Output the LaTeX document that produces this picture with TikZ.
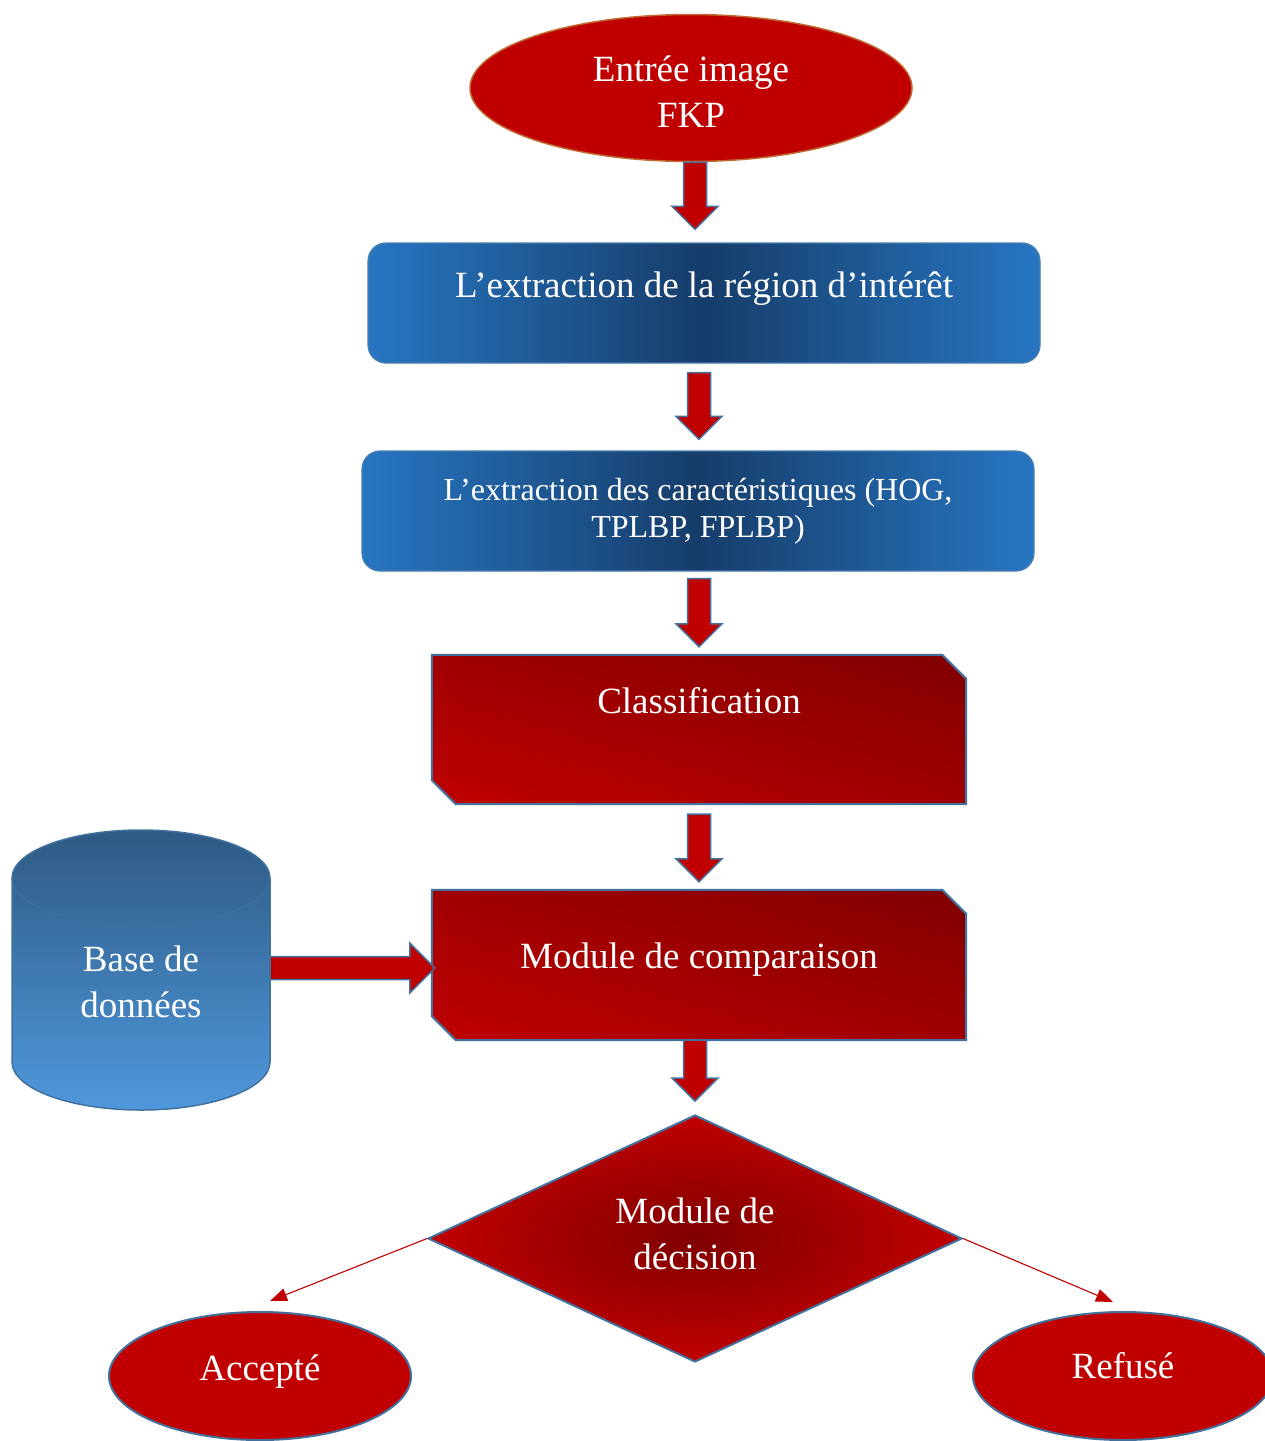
\documentclass[tikz,border=0pt]{standalone}
\usepackage{fontspec}
\setmainfont{Liberation Serif}
\usetikzlibrary{shapes.geometric,arrows.meta,calc}
\definecolor{rd}{HTML}{C00000}
\definecolor{drd}{HTML}{800000}
\definecolor{edg}{HTML}{41719C}
\definecolor{brn}{HTML}{BE6A30}
\definecolor{bl}{HTML}{2776C2}
\definecolor{bd}{HTML}{163D6A}
\definecolor{bedge}{HTML}{4A7DB0}
\definecolor{cylT}{HTML}{2E5A84}
\definecolor{cylB}{HTML}{4F98DC}
\definecolor{cylL}{HTML}{3F70A0}
\pgfdeclarehorizontalshading{bluebar}{100bp}{color(0bp)=(bl); color(25bp)=(bl); color(50bp)=(bd); color(75bp)=(bl); color(100bp)=(bl)}
\pgfdeclarefunctionalshading{diagred}{\pgfpointorigin}{\pgfpoint{100bp}{100bp}}{}{%
  add 50 sub 100 div dup 0 lt {pop 0} if dup 1 gt {pop 1} if -0.251 mul 0.753 add 0 0}
\tikzset{
  txt/.style={text=white, inner sep=0pt, font=\fontsize{37}{46}\selectfont, align=center},
  smalltxt/.style={text=white, inner sep=0pt, font=\fontsize{32}{37}\selectfont, align=center},
  blk/.style={fill=rd, draw=edg, line width=1.5pt, line join=miter},
  bluebox/.style={rectangle, rounded corners=18pt, minimum width=672pt, minimum height=120pt, inner sep=0pt, shade, shading=bluebar, draw=bedge, line width=1.2pt},
  frame/.style={rectangle, minimum width=534pt, inner sep=0pt},
  redgrad/.style={shade, shading=diagred, draw=edg, line width=2pt},
  oval/.style={ellipse, fill=rd, draw=edg, line width=2pt, inner sep=0pt},
  thinarrow/.style={draw=rd, line width=1.1pt, -{Triangle[length=17pt,width=13pt]}}
}
\newcommand\blkdown[2]{%
  \draw[blk] let \p1=(#1), \p2=(#2) in
    (\x1-11.5pt,\y1) -- (\x1+11.5pt,\y1) -- (\x1+11.5pt,\y2+23pt) -- (\x1+23pt,\y2+23pt)
    -- (\x1,\y2) -- (\x1-23pt,\y2+23pt) -- (\x1-11.5pt,\y2+23pt) -- cycle;}
\newcommand\blkright[2]{%
  \draw[blk] let \p1=(#1), \p2=(#2) in
    (\x1,\y1+11.5pt) -- (\x2-25pt,\y1+11.5pt) -- (\x2-25pt,\y1+25pt) -- (\x2,\y1)
    -- (\x2-25pt,\y1-25pt) -- (\x2-25pt,\y1-11.5pt) -- (\x1,\y1-11.5pt) -- cycle;}
\begin{document}
\begin{tikzpicture}[x=1pt,y=-1pt]
\clip (0,0) rectangle (1265,1441);
\fill[white] (0,0) rectangle (1265,1441);

% input ellipse
\node[ellipse, fill=rd, draw=brn, line width=1.5pt, minimum width=442pt, minimum height=147pt, inner sep=0pt] (in) at (691,88) {};
\node[txt] (inT) at (691,92) {Entrée image\\FKP};

% blue boxes
\node[bluebox] (box1) at (704,303) {};
\node[txt, anchor=base] (box1T) at (704,297) {L’extraction de la région d’intérêt};
\node[bluebox] (box2) at (698,511) {};
\node[smalltxt] (box2T) at (698,511) {L’extraction des caractéristiques (HOG,\\TPLBP, FPLBP)};

% classification
\node[frame, minimum height=149pt] (cls) at (699,729.5) {};
\path[redgrad] (cls.north west) -- ($(cls.north east)+(-24,0)$) -- ($(cls.north east)+(0,24)$)
  -- (cls.south east) -- ($(cls.south west)+(24,0)$) -- ($(cls.south west)+(0,-24)$) -- cycle;
\node[txt, anchor=base] (clsT) at (699,713) {Classification};

% comparison module
\node[frame, minimum height=150pt] (mod) at (699,965) {};
\path[redgrad] (mod.north west) -- ($(mod.north east)+(-24,0)$) -- ($(mod.north east)+(0,24)$)
  -- (mod.south east) -- ($(mod.south west)+(24,0)$) -- ($(mod.south west)+(0,-24)$) -- cycle;
\node[txt, anchor=base] (modT) at (699,968) {Module de comparaison};

% database cylinder
\node[rectangle, minimum width=258pt, minimum height=280pt, inner sep=0pt] (db) at (141,970) {};
\path[top color=cylT, bottom color=cylB, draw=edg, line width=1.5pt]
  (12,878) -- (12,1062) arc[start angle=180, end angle=360, x radius=129pt, y radius=48pt]
  -- (270,878) arc[start angle=0, end angle=180, x radius=129pt, y radius=48pt] -- cycle;
\draw[cylL, line width=1pt] (12,878) arc[start angle=180, end angle=360, x radius=129pt, y radius=48pt];
\node[txt] (dbT) at (141,982) {Base de\\données};

% decision diamond
\node[diamond, aspect=2.16, minimum width=534pt, minimum height=247pt, inner sep=0pt,
      shade, inner color=drd, outer color=rd, draw=edg, line width=2pt] (dec) at (695,1238.5) {};
\node[txt] (decT) at (695,1234) {Module de\\décision};

% outcomes
\node[oval, minimum width=302pt, minimum height=128pt] (acc) at (260,1376) {};
\node[txt, anchor=base] (accT) at (260,1380) {Accepté};
\node[oval, minimum width=300pt, minimum height=128pt] (ref) at (1123,1376) {};
\node[txt, anchor=base] (refT) at (1123,1378) {Refusé};

% block arrows
\blkdown{$(in.south)+(4,0)$}{$(box1.north)+(-9,-13)$}
\blkdown{$(box1.south)+(-5,9)$}{$(box2.north)+(1,-11)$}
\blkdown{$(box2.south)+(1,7)$}{$(cls.north)+(0,-8)$}
\blkdown{$(cls.south)+(0,10)$}{$(mod.north)+(0,-8)$}
\blkdown{$(mod.south)+(-4,0)$}{$(dec.north)+(0,-13)$}
\blkright{$(db.east)+(0,-2)$}{$(mod.west)+(3,0)$}

% thin decision arrows
\coordinate (accTip) at (270,1301);
\coordinate (refTip) at (1113,1302);
\draw[thinarrow] (dec.west) -- (accTip);
\draw[thinarrow] (dec.east) -- (refTip);
\end{tikzpicture}
\end{document}
